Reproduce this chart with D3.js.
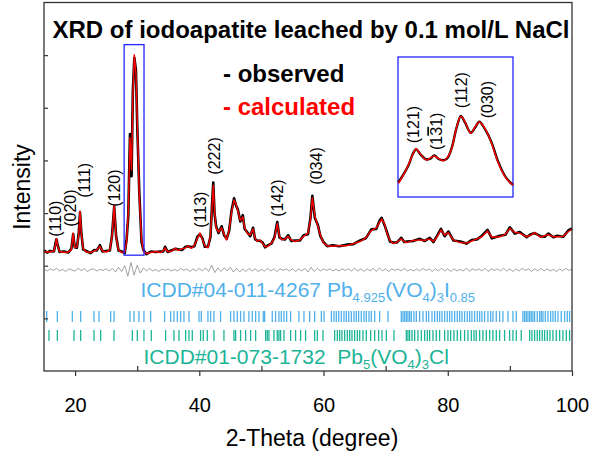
<!DOCTYPE html>
<html>
<head>
<meta charset="utf-8">
<script src="https://cdn.jsdelivr.net/npm/d3@7/dist/d3.min.js"></script>
<style>
  body { margin: 0; background: white; }
  svg { display: block; font-family: "Liberation Sans", Arial, sans-serif; }
</style>
</head>
<body>
<div id="chart"></div>
<script>
// ---- data ----
const twoTheta = [
  15.0, 15.5, 16.0, 16.6, 16.85, 17.0, 17.15, 17.5, 18.2, 18.9,
  19.4, 19.7, 19.95, 20.3, 20.6, 20.8, 21.0, 21.3, 21.8, 22.5,
  23.1, 23.5, 24.0, 24.4, 25.0, 25.6, 25.95, 26.3, 26.6, 27.0,
  27.5, 28.0, 28.3, 28.57, 28.84, 29.1, 29.3, 29.54, 29.8, 30.02,
  30.34, 30.7, 31.0, 31.5, 32.2, 33.0, 33.7, 34.2, 34.5, 34.9,
  35.5, 36.1, 36.6, 37.2, 37.8, 38.2, 38.7, 39.2, 39.7, 40.1,
  40.5, 40.9, 41.4, 41.8, 42.05, 42.25, 42.45, 42.7, 43.1, 43.6,
  44.0, 44.4, 44.8, 45.2, 45.6, 45.9, 46.2, 46.6, 47.0, 47.3,
  47.7, 48.2, 48.65, 49.0, 49.3, 49.8, 50.2, 50.6, 51.1, 51.6,
  52.1, 52.55, 52.9, 53.3, 53.8, 54.3, 54.8, 55.4, 56.2, 56.8,
  57.5, 57.9, 58.2, 58.6, 59.1, 59.5, 60.0, 60.6, 61.5, 62.5,
  63.7, 64.8, 65.9, 66.8, 67.7, 68.5, 69.0, 69.35, 69.8, 70.2,
  70.7, 71.2, 71.8, 72.5, 73.0, 73.4, 74.4, 75.5, 76.3, 77.1,
  77.7, 78.3, 78.9, 79.5, 80.1, 80.9, 82.0, 83.0, 83.9, 84.7,
  85.5, 86.4, 87.1, 88.4, 89.3, 90.0, 90.8, 91.6, 92.7, 93.4,
  94.0, 94.9, 95.6, 96.2, 97.0, 97.6, 98.6, 99.4, 100.0
];
const calculated = [
  2.27, 2.26, 2.26, 2.28, 2.40, 2.52, 2.40, 2.27, 2.25, 2.26,
  2.30, 2.62, 2.34, 2.36, 2.60, 3.04, 2.62, 2.33, 2.26, 2.25,
  2.28, 2.30, 2.37, 2.28, 2.26, 2.30, 2.55, 3.15, 2.55, 2.30,
  2.25, 2.26, 2.45, 3.01, 4.43, 3.82, 5.20, 6.01, 5.66, 4.72,
  3.32, 2.50, 2.28, 2.23, 2.25, 2.27, 2.25, 2.28, 2.34, 2.27,
  2.27, 2.33, 2.29, 2.32, 2.34, 2.38, 2.33, 2.38, 2.52, 2.62,
  2.50, 2.38, 2.34, 2.58, 3.10, 3.53, 3.05, 2.72, 2.64, 2.72,
  2.60, 2.49, 2.68, 3.02, 3.25, 3.18, 3.04, 2.86, 2.93, 2.72,
  2.62, 2.58, 2.70, 2.52, 2.46, 2.49, 2.42, 2.36, 2.37, 2.43,
  2.52, 2.80, 2.56, 2.49, 2.51, 2.56, 2.49, 2.46, 2.49, 2.56,
  2.62, 2.88, 3.29, 2.94, 2.75, 2.58, 2.43, 2.38, 2.37, 2.38,
  2.38, 2.42, 2.46, 2.53, 2.67, 2.72, 2.82, 2.89, 2.80, 2.62,
  2.48, 2.42, 2.45, 2.51, 2.46, 2.44, 2.48, 2.49, 2.48, 2.51,
  2.46, 2.55, 2.68, 2.58, 2.63, 2.49, 2.44, 2.43, 2.47, 2.51,
  2.55, 2.66, 2.54, 2.55, 2.60, 2.71, 2.63, 2.62, 2.55, 2.58,
  2.63, 2.54, 2.57, 2.59, 2.55, 2.55, 2.56, 2.65, 2.69
];
const observed = [
  2.29, 2.25, 2.28, 2.27, 2.43, 2.50, 2.42, 2.26, 2.27, 2.25,
  2.32, 2.60, 2.35, 2.34, 2.63, 3.01, 2.64, 2.31, 2.28, 2.24,
  2.30, 2.29, 2.39, 2.27, 2.28, 2.29, 2.57, 3.12, 2.57, 2.29,
  2.27, 2.24, 2.50, 2.95, 4.50, 3.70, 5.30, 5.95, 5.72, 4.62,
  3.40, 2.45, 2.30, 2.22, 2.27, 2.26, 2.27, 2.27, 2.36, 2.26,
  2.29, 2.32, 2.31, 2.30, 2.36, 2.37, 2.35, 2.37, 2.55, 2.60,
  2.52, 2.36, 2.36, 2.55, 3.15, 3.58, 3.00, 2.75, 2.62, 2.75,
  2.58, 2.51, 2.66, 3.05, 3.28, 3.15, 3.07, 2.84, 2.96, 2.70,
  2.64, 2.56, 2.72, 2.50, 2.48, 2.47, 2.44, 2.35, 2.39, 2.42,
  2.54, 2.83, 2.54, 2.51, 2.50, 2.58, 2.47, 2.48, 2.48, 2.58,
  2.60, 2.91, 3.33, 2.91, 2.77, 2.56, 2.45, 2.37, 2.39, 2.37,
  2.40, 2.41, 2.48, 2.52, 2.69, 2.70, 2.85, 2.91, 2.78, 2.64,
  2.46, 2.44, 2.44, 2.53, 2.45, 2.46, 2.47, 2.51, 2.47, 2.53,
  2.45, 2.57, 2.70, 2.56, 2.65, 2.48, 2.46, 2.42, 2.49, 2.50,
  2.57, 2.68, 2.52, 2.57, 2.59, 2.73, 2.61, 2.64, 2.54, 2.60,
  2.62, 2.56, 2.55, 2.61, 2.54, 2.57, 2.55, 2.67, 2.71
];

// difference curve (obs - calc), one value every 0.5 deg from 15 to 100
const diffTheta = d3.range(15, 100.001, 0.5);
const difference = [
  0.01, -0.02, 0.02, -0.01, 0.03, -0.02, 0.01, -0.03, 0.02, 0.00,
  -0.02, 0.03, -0.01, 0.02, -0.03, 0.01, 0.02, -0.02, 0.01, -0.01,
  0.02, -0.02, 0.03, -0.04, 0.05, -0.03, 0.08, -0.12, 0.14, -0.10,
  0.09, -0.06, 0.04, -0.02, 0.03, -0.02, 0.01, -0.03, 0.02, -0.01,
  0.02, -0.02, 0.01, -0.02, 0.03, -0.01, 0.02, -0.03, 0.02, -0.02,
  0.03, -0.02, 0.04, -0.03, 0.09, -0.05, 0.04, -0.03, 0.04, -0.02,
  0.05, -0.04, 0.03, -0.04, 0.02, -0.03, 0.03, -0.02, 0.02, -0.03,
  0.01, -0.02, 0.03, -0.02, 0.02, -0.03, 0.02, -0.01, 0.02, -0.02,
  0.02, -0.03, 0.02, -0.02, 0.03, -0.04, 0.05, -0.03, 0.03, -0.02,
  0.02, -0.01, 0.02, -0.02, 0.01, -0.02, 0.02, -0.01, 0.02, -0.02,
  0.03, -0.02, 0.02, -0.03, 0.02, -0.02, 0.03, -0.03, 0.04, -0.02,
  0.02, -0.03, 0.02, -0.01, 0.02, -0.02, 0.03, -0.02, 0.01, -0.02,
  0.02, -0.02, 0.03, -0.01, 0.02, -0.03, 0.02, -0.02, 0.03, -0.02,
  0.02, -0.03, 0.02, -0.02, 0.01, -0.02, 0.03, -0.02, 0.02, -0.01,
  0.02, -0.02, 0.03, -0.03, 0.02, -0.01, 0.02, -0.02, 0.03, -0.02,
  0.02, -0.03, 0.02, -0.02, 0.03, -0.01, 0.02, -0.03, 0.02, -0.02,
  0.03, -0.02, 0.02, -0.02, 0.01, -0.03, 0.02, -0.02, 0.03, -0.01,
  0.02
];

// reference reflections (2-theta)
const iodideRefs = [
  15.43, 17.15, 19.56, 20.90, 23.05, 23.85, 25.73, 26.27, 28.84, 29.48,
  30.29, 31.09, 32.17, 34.42, 35.39, 35.92, 36.46, 37.00, 37.53, 38.34,
  39.95, 40.32, 41.39, 41.82, 42.36, 43.43, 45.04, 45.58, 46.12, 46.65,
  47.19, 47.99, 48.53, 49.07, 49.60, 50.30, 50.52, 51.75, 52.28, 52.82,
  53.20, 53.63, 54.06, 54.70, 56.04, 56.85, 57.77, 58.57, 59.65, 60.08,
  61.26, 61.68, 62.06, 62.44, 62.86, 63.29, 63.67, 64.05, 64.47, 64.90,
  65.28, 65.65, 66.08, 66.51, 66.89, 67.32, 67.69, 68.23, 69.03, 70.38,
  72.52, 72.79, 73.06, 73.33, 73.59, 73.86, 74.13, 74.56, 74.94, 75.47,
  76.01, 76.55, 76.92, 77.46, 77.89, 78.32, 78.69, 79.07, 79.50, 79.92,
  80.30, 80.68, 81.11, 81.53, 81.91, 82.29, 82.71, 83.14, 83.52, 83.89,
  84.32, 84.75, 85.13, 85.50, 85.93, 86.47, 86.90, 87.27, 87.81, 88.35,
  88.88, 89.69, 90.49, 91.03, 92.10, 92.37, 92.64, 92.91, 93.18, 93.44,
  93.71, 93.98, 94.41, 94.79, 95.05, 95.32, 95.70, 96.13, 96.56, 96.93,
  97.31, 97.74, 98.27, 98.81, 99.24, 99.61
];
const chlorideRefs = [
  15.80, 17.15, 19.83, 20.90, 23.05, 24.12, 26.27, 29.22, 30.02, 31.09,
  32.27, 34.58, 35.92, 36.73, 37.80, 38.34, 38.87, 40.21, 40.64, 41.29,
  42.36, 43.97, 45.58, 45.85, 46.65, 47.46, 48.26, 49.07, 50.68, 50.94,
  51.21, 52.02, 52.55, 52.82, 53.09, 53.63, 54.70, 55.50, 56.31, 57.11,
  58.57, 59.00, 59.91, 61.79, 62.22, 62.60, 62.97, 63.40, 63.83, 64.21,
  64.58, 65.01, 65.44, 65.82, 66.35, 66.89, 67.59, 68.23, 68.87, 69.41,
  70.11, 71.34, 73.33, 73.59, 73.86, 74.24, 74.67, 75.20, 75.74, 76.28,
  76.71, 77.08, 77.62, 78.15, 78.69, 79.50, 80.03, 80.46, 81.00, 81.53,
  82.07, 82.71, 83.25, 83.79, 84.22, 84.59, 85.13, 85.66, 86.20, 86.74,
  87.27, 87.81, 88.35, 89.15, 89.96, 90.49, 91.03, 91.83, 93.18, 93.55,
  93.98, 94.41, 94.79, 95.21, 95.59, 96.02, 96.45, 96.93, 97.47, 98.01,
  98.54, 99.08, 99.61
];

// peak labels: hkl, 2-theta, intensity at the foot of the label
const peakLabels = ["(110)", "(020)", "(111)", "(120)", "(113)", "(222)", "(142)", "(034)"];
const peakLabelTheta = [16.8, 19.3, 21.5, 26.3, 40.1, 42.35, 52.5, 58.9];
const peakLabelBase = [2.55, 2.74, 3.29, 3.12, 2.72, 3.73, 2.93, 3.54];

// zoomed region of the main peak (inset)
const insetTheta = [
  28.01, 28.14, 28.27, 28.40, 28.47, 28.57, 28.75, 28.83, 28.95, 29.05,
  29.18, 29.27, 29.40, 29.53, 29.64, 29.75, 29.90, 30.01, 30.12, 30.27,
  30.44, 30.62, 30.79, 31.0
];
const insetCalc = [
  0.098, 0.157, 0.229, 0.312, 0.345, 0.312, 0.264, 0.276, 0.293, 0.276,
  0.259, 0.276, 0.345, 0.500, 0.576, 0.535, 0.455, 0.500, 0.535, 0.488,
  0.384, 0.241, 0.145, 0.086
];
const insetObs = [
  0.105, 0.160, 0.225, 0.315, 0.342, 0.310, 0.268, 0.272, 0.296, 0.273,
  0.262, 0.272, 0.349, 0.497, 0.579, 0.531, 0.459, 0.496, 0.538, 0.484,
  0.390, 0.247, 0.150, 0.086
];
const insetLabelTheta = [28.39, 29.01, 29.66, 30.33];
const insetLabelBase = [0.384, 0.336, 0.634, 0.562];
const boxTheta = [27.9, 31.1];
const boxIntensity = [2.2, 6.2];

const title = "XRD of iodoapatite leached by 0.1 mol/L NaCl";
const iodideName = [["ICDD#04-011-4267 Pb", 0], ["4.925", 1], ["(VO", 0], ["4", 1], [")", 0], ["3", 1], ["I", 0], ["0.85", 1]];
const chlorideName = [["ICDD#01-073-1732  Pb", 0], ["5", 1], ["(VO", 0], ["4", 1], [")", 0], ["3", 1], ["Cl", 0]];

// ---- layout ----
const W = 593, H = 452;
const P = { LEFT: 44, RIGHT: 572, TOP: 2.5, BOTTOM: 371 };
const BLUE = "#4fb0ea", GREEN = "#1cb496", BOX = "#2424ff";

const svg = d3.select("#chart").append("svg").attr("width", W).attr("height", H);

const x = d3.scaleLinear().domain([15, 100]).range([P.LEFT, P.RIGHT]);
const y = d3.scaleLinear().domain([0, 7]).range([P.BOTTOM, P.TOP]);

const pts = (xs, ys) => xs.map((t, i) => [t, ys[i]]);
const line = d3.line().x((d) => x(d[0])).y((d) => y(d[1]));

// difference curve, drawn around 1.92
svg.append("path")
  .attr("d", line(pts(diffTheta, difference.map((d) => d + 1.92))))
  .attr("fill", "none").attr("stroke", "#7a7a7a").attr("stroke-width", 0.7);

svg.append("path")
  .attr("d", line(pts(twoTheta, observed)))
  .attr("fill", "none").attr("stroke", "#000").attr("stroke-width", 2.6)
  .attr("stroke-linejoin", "round");

svg.append("path")
  .attr("d", line(pts(twoTheta, calculated)))
  .attr("fill", "none").attr("stroke", "#ff0000").attr("stroke-width", 1.4)
  .attr("stroke-linejoin", "round");

// box around the main peak
svg.append("rect")
  .attr("x", x(boxTheta[0])).attr("y", y(boxIntensity[1]))
  .attr("width", x(boxTheta[1]) - x(boxTheta[0]))
  .attr("height", y(boxIntensity[0]) - y(boxIntensity[1]))
  .attr("fill", "none").attr("stroke", BOX).attr("stroke-width", 1.3);

// rotated hkl labels
function vLabel(px, py, parts) {
  const t = svg.append("text")
    .attr("transform", `translate(${px},${py}) rotate(-90)`)
    .attr("dy", "0.35em")
    .attr("font-size", 16).attr("fill", "#000");
  parts.forEach((p) => {
    const s = t.append("tspan").text(p[0]);
    if (p[1]) s.style("text-decoration", "overline");
  });
}
peakLabels.forEach((lab, i) => vLabel(x(peakLabelTheta[i]), y(peakLabelBase[i]), [[lab, 0]]));

// reference tick rows
svg.append("g").selectAll("line").data(iodideRefs).join("line")
  .attr("x1", (d) => x(d)).attr("x2", (d) => x(d))
  .attr("y1", 311).attr("y2", 322)
  .attr("stroke", BLUE).attr("stroke-width", 1.3);
svg.append("g").selectAll("line").data(chlorideRefs).join("line")
  .attr("x1", (d) => x(d)).attr("x2", (d) => x(d))
  .attr("y1", 330).attr("y2", 341)
  .attr("stroke", GREEN).attr("stroke-width", 1.3);

function chemText(px, py, parts, color) {
  const t = svg.append("text").attr("x", px).attr("y", py)
    .attr("fill", color).attr("font-size", 21).style("white-space", "pre");
  let shifted = false;
  parts.forEach((p) => {
    const s = t.append("tspan").text(p[0]);
    if (p[1] && !shifted) { s.attr("dy", 5).attr("font-size", 13); shifted = true; }
    else if (p[1]) { s.attr("font-size", 13); }
    else if (shifted) { s.attr("dy", -5); shifted = false; }
  });
}
chemText(140.5, 297, iodideName, BLUE);
chemText(143.5, 364, chlorideName, GREEN);

// title + legend
svg.append("text").attr("x", 311).attr("y", 38).attr("text-anchor", "middle")
  .attr("font-size", 24).attr("font-weight", "bold").text(title);
svg.append("text").attr("x", 223).attr("y", 82)
  .attr("font-size", 24).attr("font-weight", "bold").attr("fill", "#000").text("- observed");
svg.append("text").attr("x", 223).attr("y", 115)
  .attr("font-size", 24).attr("font-weight", "bold").attr("fill", "#ff0000").text("- calculated");

// inset
const ix = d3.scaleLinear().domain([28, 31]).range([398, 513]);
const iy = d3.scaleLinear().domain([0, 1]).range([197, 57]);
const iline = d3.line().x((d) => ix(d[0])).y((d) => iy(d[1])).curve(d3.curveMonotoneX);
svg.append("rect").attr("x", 398).attr("y", 57).attr("width", 115).attr("height", 140)
  .attr("fill", "#fff").attr("stroke", BOX).attr("stroke-width", 1.3);
svg.append("path").attr("d", iline(pts(insetTheta, insetObs)))
  .attr("fill", "none").attr("stroke", "#000").attr("stroke-width", 2.4);
svg.append("path").attr("d", iline(pts(insetTheta, insetCalc)))
  .attr("fill", "none").attr("stroke", "#ff0000").attr("stroke-width", 1.5);
vLabel(ix(insetLabelTheta[0]), iy(insetLabelBase[0]), [["(121)", 0]]);
vLabel(ix(insetLabelTheta[1]), iy(insetLabelBase[1]), [["(1", 0], ["3", 1], ["1)", 0]]);
vLabel(ix(insetLabelTheta[2]), iy(insetLabelBase[2]), [["(112)", 0]]);
vLabel(ix(insetLabelTheta[3]), iy(insetLabelBase[3]), [["(030)", 0]]);

// axes and frame
const axisColor = "#333";
const xMajor = svg.append("g").attr("transform", `translate(0,${P.BOTTOM})`)
  .call(d3.axisBottom(x).tickValues([20, 40, 60, 80, 100]).tickSize(5).tickPadding(22));
const xMinor = svg.append("g").attr("transform", `translate(0,${P.BOTTOM})`)
  .call(d3.axisBottom(x).tickValues([30, 50, 70, 90]).tickSize(-5).tickFormat(""));
const yAxis = svg.append("g").attr("transform", `translate(${P.LEFT},0)`)
  .call(d3.axisLeft(y).tickValues([1, 2, 3, 4, 5, 6]).tickSize(-4).tickFormat(""));
[xMajor, xMinor, yAxis].forEach((g) => {
  g.select(".domain").remove();
  g.selectAll("line").attr("stroke", axisColor).attr("stroke-width", 1.2);
});
xMajor.selectAll("text").attr("font-size", 20).attr("fill", "#000")
  .attr("font-family", "Liberation Sans, Arial, sans-serif");

svg.append("rect").attr("x", P.LEFT).attr("y", P.TOP)
  .attr("width", P.RIGHT - P.LEFT).attr("height", P.BOTTOM - P.TOP)
  .attr("fill", "none").attr("stroke", axisColor).attr("stroke-width", 1.3);

svg.append("text").attr("x", (P.LEFT + P.RIGHT) / 2 + 4).attr("y", 446)
  .attr("text-anchor", "middle").attr("font-size", 23).text("2-Theta (degree)");
svg.append("text").attr("transform", "translate(30,187) rotate(-90)")
  .attr("text-anchor", "middle").attr("font-size", 23).text("Intensity");
</script>
</body>
</html>
